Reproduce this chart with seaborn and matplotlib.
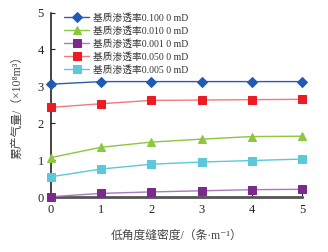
import numpy as np
import pandas as pd
import matplotlib
matplotlib.use("Agg")
import matplotlib.pyplot as plt
import seaborn as sns

# 数据
density = [0, 1, 2, 3, 4, 5]
k_0100 = [3.06, 3.13, 3.13, 3.13, 3.13, 3.13]
k_0010 = [1.07, 1.35, 1.49, 1.57, 1.64, 1.65]
k_0001 = [0.01, 0.10, 0.14, 0.17, 0.20, 0.21]
k_0500 = [2.43, 2.53, 2.62, 2.63, 2.64, 2.65]
k_0050 = [0.55, 0.76, 0.89, 0.95, 0.99, 1.03]

labels = ["基质渗透率0.100 0 mD", "基质渗透率0.010 0 mD", "基质渗透率0.001 0 mD",
          "基质渗透率0.050 0 mD", "基质渗透率0.005 0 mD"]
series = [k_0100, k_0010, k_0001, k_0500, k_0050]

rows = []
for lab, vals in zip(labels, series):
    for x, y in zip(density, vals):
        rows.append({"x": x, "y": y, "s": lab})
df = pd.DataFrame(rows)

line_colors = ["#2a5db0", "#8dc63f", "#a77bb8", "#f27a7a", "#5bc8dc"]
mark_colors = ["#1f5bb5", "#8dc63f", "#7b2a8c", "#ed1c24", "#5bc8dc"]
markers = ["D", "^", "s", "s", "s"]

sns.set_style("ticks")
plt.rcParams["font.family"] = ["Liberation Serif", "Noto Sans CJK SC", "DejaVu Sans"]

fig = plt.figure(figsize=(3.28, 2.52), dpi=100)
ax = fig.add_axes([0.155, 0.218, 0.766, 0.732])

for lab, lc, mc, mk in zip(labels, line_colors, mark_colors, markers):
    sub = df[df["s"] == lab]
    sns.lineplot(data=sub, x="x", y="y", ax=ax, color=lc, lw=1.0,
                 marker=mk, markersize=6 if mk == "s" else 5.5,
                 markerfacecolor=mc, markeredgecolor=mc, label=lab,
                 clip_on=False, zorder=3)

ax.set_xlim(0, 5)
ax.set_ylim(0, 5)
ax.set_xticks(density)
ax.set_yticks([0, 1, 2, 3, 4, 5])
ax.tick_params(direction="in", length=3, labelsize=9, colors="#222222", pad=5)
ax.spines["top"].set_visible(False)
ax.spines["right"].set_visible(False)
ax.spines["left"].set_color("#111111")
ax.spines["left"].set_linewidth(1.1)
ax.spines["bottom"].set_color("#555555")
ax.spines["bottom"].set_linewidth(2.0)

ax.set_xlabel("低角度缝密度/（条·m⁻¹）", fontsize=8.5, color="#444444", labelpad=10)
ax.set_ylabel("累产气量/（×10⁸m³）", fontsize=8.5, color="#444444", labelpad=10)

leg = ax.legend(loc="upper left", bbox_to_anchor=(0.03, 1.03), frameon=False,
                fontsize=7, handlelength=2.6, labelspacing=0.35,
                handletextpad=0.4, borderaxespad=0.2)
for t in leg.get_texts():
    t.set_color("#333333")

fig.savefig("out.png", dpi=100)
